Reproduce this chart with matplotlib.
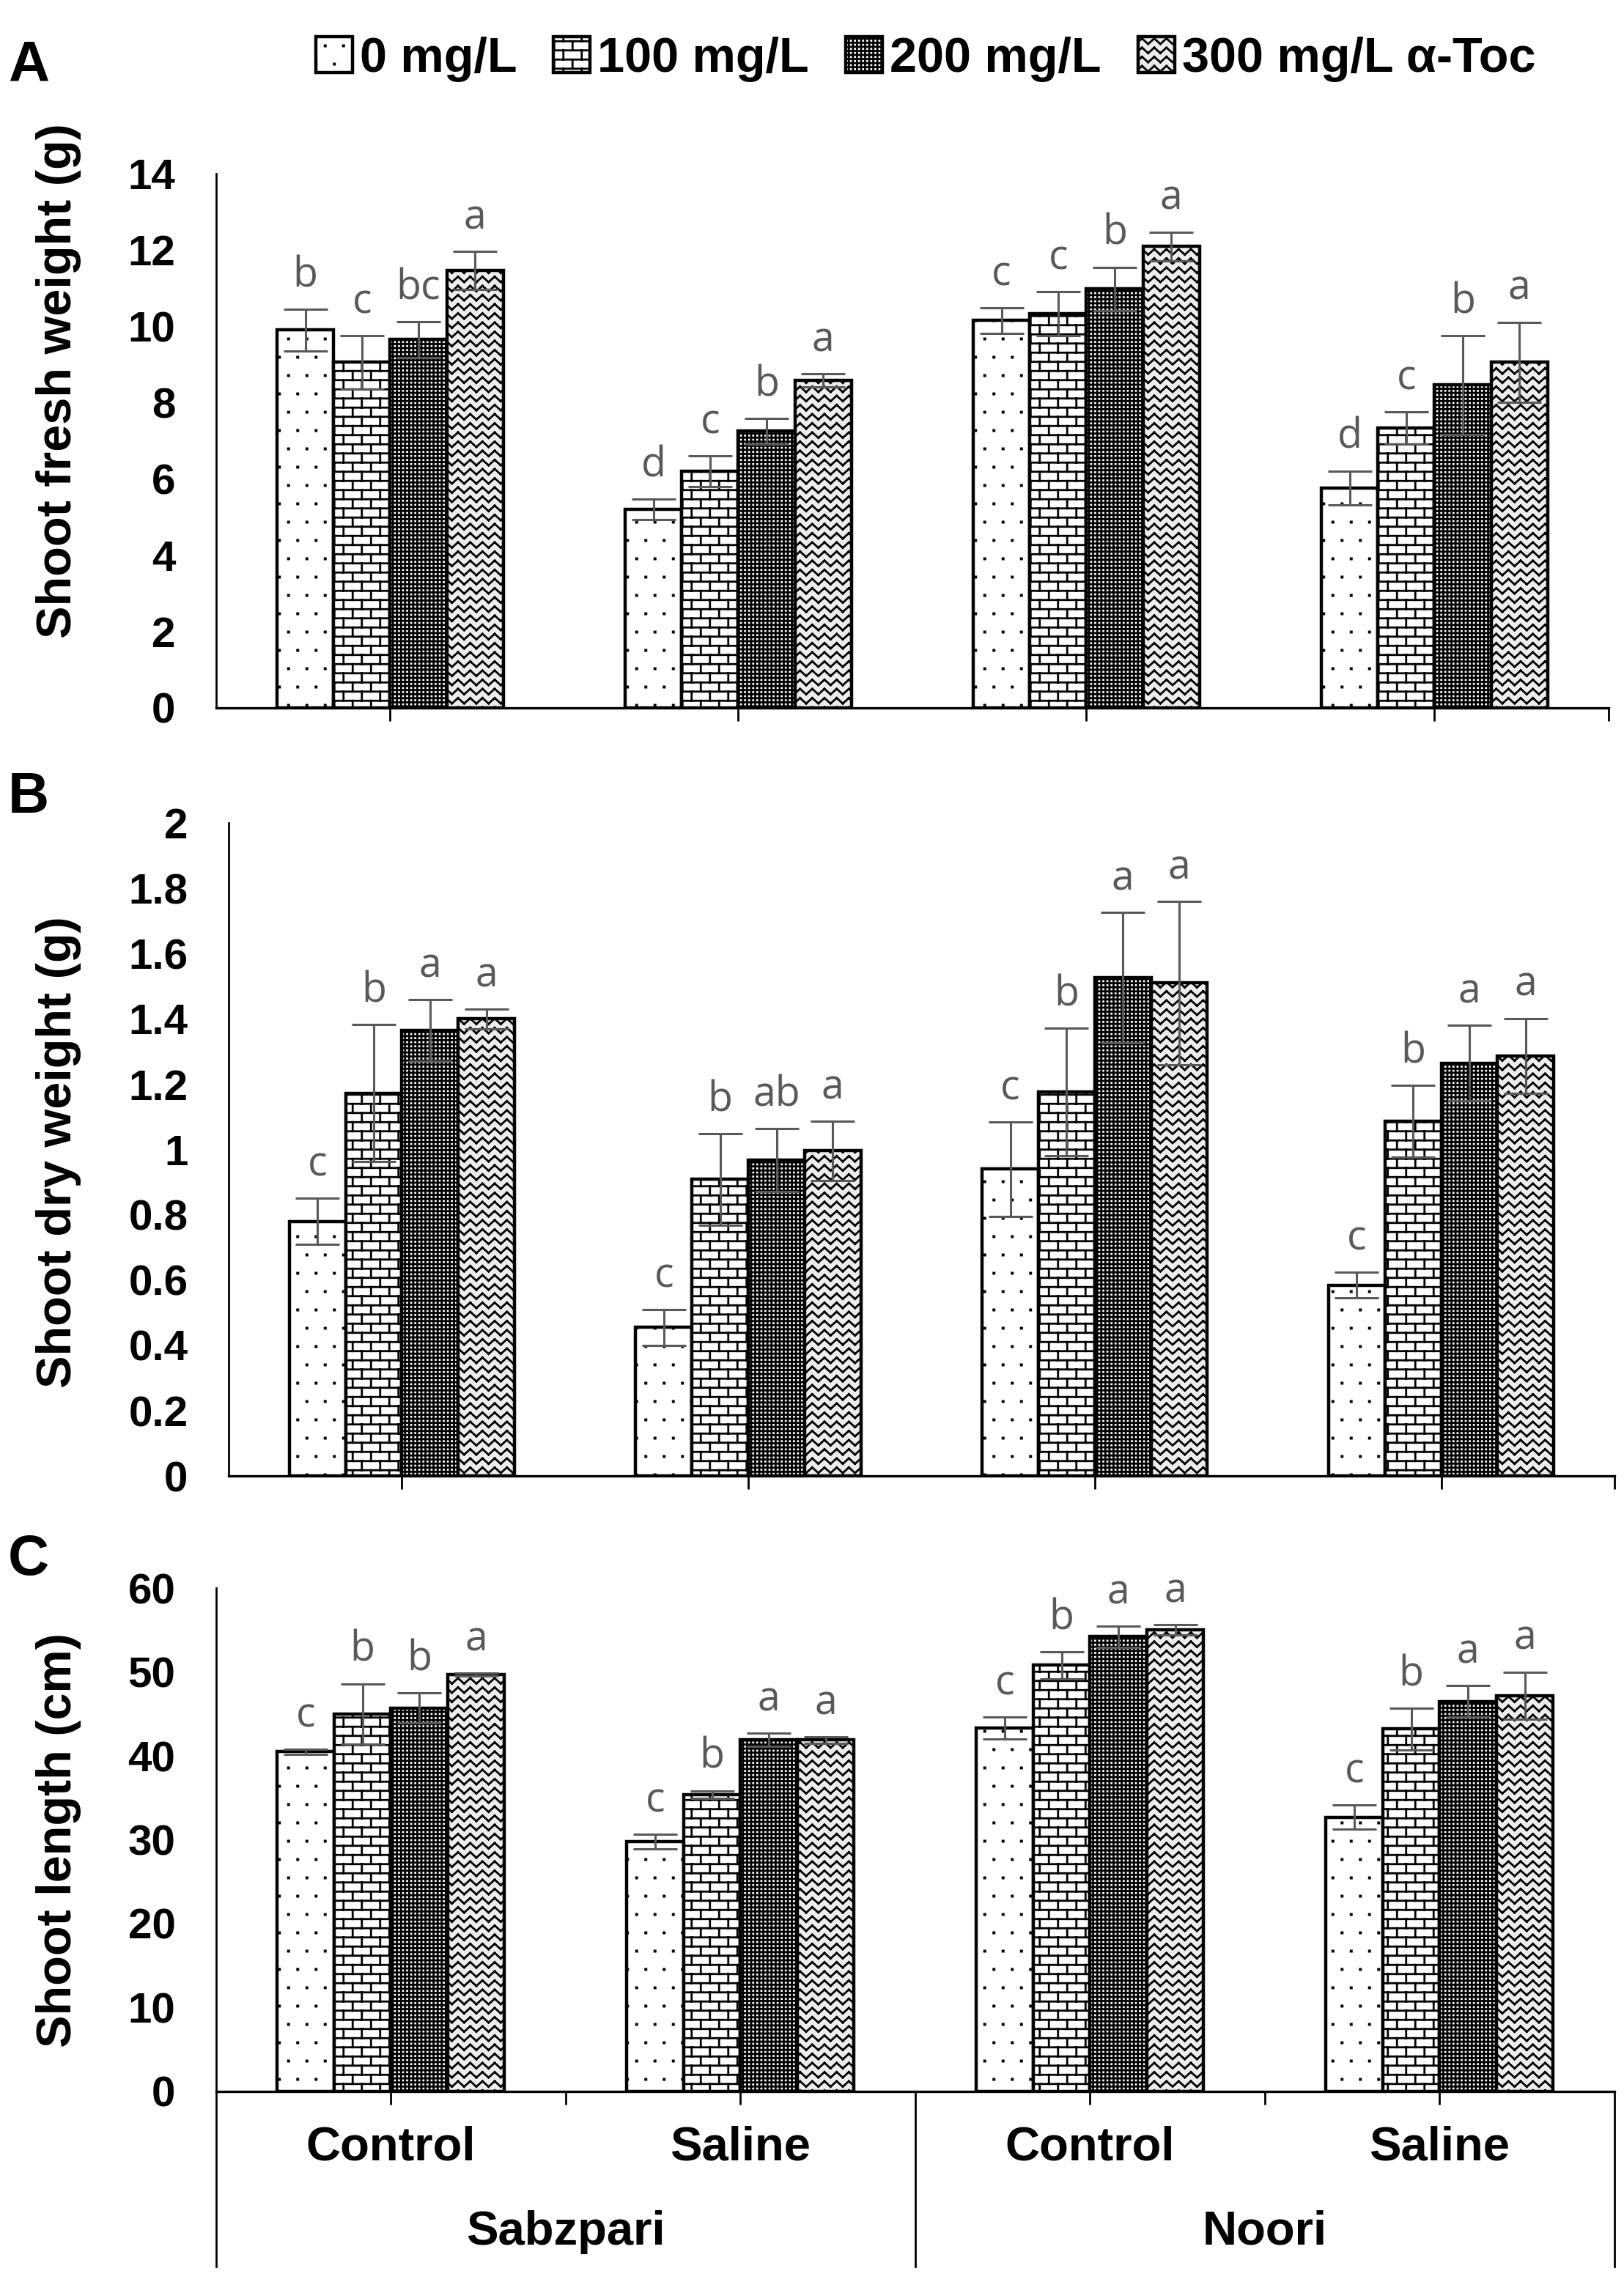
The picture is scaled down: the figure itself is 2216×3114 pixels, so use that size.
import numpy as np
import matplotlib
matplotlib.use("Agg")
import matplotlib.pyplot as plt
import matplotlib.hatch as mhatch
from matplotlib.path import Path
from matplotlib.patches import Patch
from matplotlib.ticker import FuncFormatter

# ---------------- data ----------------
categories = ["Control", "Saline", "Control", "Saline"]
varieties = ["Sabzpari", "Noori"]
series_labels = ["0 mg/L", "100 mg/L", "200 mg/L", "300 mg/L α-Toc"]

# Panel A: shoot fresh weight (g); rows = series (0,100,200,300 mg/L), cols = categories
fresh_mean = [[9.90, 5.20, 10.15, 5.76],
              [9.06, 6.20, 10.33, 7.33],
              [9.65, 7.25, 10.98, 8.46],
              [11.46, 8.58, 12.09, 9.06]]
fresh_sd = [[0.55, 0.27, 0.33, 0.45],
            [0.70, 0.40, 0.58, 0.42],
            [0.47, 0.33, 0.57, 1.30],
            [0.50, 0.17, 0.38, 1.05]]
fresh_letters = [["b", "d", "c", "d"],
                 ["c", "c", "c", "c"],
                 ["bc", "b", "b", "b"],
                 ["a", "a", "a", "a"]]

# Panel B: shoot dry weight (g)
dry_mean = [[0.78, 0.455, 0.94, 0.585],
            [1.173, 0.909, 1.177, 1.087],
            [1.365, 0.968, 1.527, 1.265],
            [1.40, 0.996, 1.51, 1.287]]
dry_sd = [[0.07, 0.055, 0.145, 0.04],
          [0.21, 0.14, 0.195, 0.11],
          [0.095, 0.096, 0.20, 0.115],
          [0.03, 0.09, 0.25, 0.115]]
dry_letters = [["c", "c", "c", "c"],
               ["b", "b", "b", "b"],
               ["a", "ab", "a", "a"],
               ["a", "a", "a", "a"]]

# Panel C: shoot length (cm)
length_mean = [[40.5, 29.8, 43.3, 32.7],
               [45.0, 35.4, 50.8, 43.2],
               [45.7, 41.9, 54.2, 46.5],
               [49.7, 41.9, 55.0, 47.2]]
length_sd = [[0.3, 0.85, 1.3, 1.45],
             [3.6, 0.45, 1.6, 2.5],
             [1.8, 0.8, 1.25, 1.9],
             [0.2, 0.4, 0.6, 2.8]]
length_letters = [["c", "c", "c", "c"],
                  ["b", "b", "b", "b"],
                  ["b", "a", "a", "a"],
                  ["a", "a", "a", "a"]]


# ---------------- custom hatch patterns ----------------
class _Base(mhatch.HatchPatternBase):
    sym = ""

    def __init__(self, hatch, density):
        self.on = hatch is not None and self.sym in hatch
        self.verts, self.codes = self.build() if self.on else (np.empty((0, 2)), np.empty(0))
        self.num_vertices = len(self.verts)

    def set_vertices_and_codes(self, vertices, codes):
        vertices[:] = self.verts
        codes[:] = self.codes

    @staticmethod
    def segs(seglist):
        v = np.asarray(seglist, float).reshape(-1, 2)
        c = np.empty(len(v), Path.code_type)
        c[0::2] = Path.MOVETO
        c[1::2] = Path.LINETO
        return v, c


class DotHatch(_Base):
    sym = "."

    def build(self):
        n = 8
        s = 0.003
        verts, codes = [], []
        for r in range(n):
            y = (r + 0.5) / n
            for c in range(n):
                x = (c + 0.25 + 0.5 * (r % 2)) / n
                verts += [(x - s, y - s), (x + s, y - s), (x + s, y + s), (x - s, y + s), (x - s, y - s)]
                codes += [Path.MOVETO, Path.LINETO, Path.LINETO, Path.LINETO, Path.CLOSEPOLY]
        return np.array(verts, float), np.array(codes, Path.code_type)


class BrickHatch(_Base):
    sym = "+"

    def build(self):
        R, C = 16, 8
        segs = []
        for k in range(R):
            y0 = (k + 0.5) / R
            y1 = (k + 1.5) / R
            segs.append([(0.0, y0), (1.0, y0)])
            for j in range(C):
                x = (j + 0.25 + 0.5 * (k % 2)) / C
                segs.append([(x, y0), (x, min(y1, 1.0))])
                if y1 > 1.0:
                    segs.append([(x, 0.0), (x, y1 - 1.0)])
        return self.segs(segs)


class ZigzagHatch(_Base):
    sym = "x"

    def build(self):
        R, P = 16, 12
        segs = []
        for k in range(R):
            y0 = (k + 0.2) / R
            a = 0.6 / R
            xs = np.arange(2 * P + 1) / (2 * P)
            ys = y0 + a * (np.arange(2 * P + 1) % 2)
            for i in range(2 * P):
                segs.append([(xs[i], ys[i]), (xs[i + 1], ys[i + 1])])
        return self.segs(segs)


class DenseHatch(_Base):
    sym = "*"

    def build(self):
        N = 36
        segs = []
        for k in range(N):
            p = (k + 0.5) / N
            segs.append([(0.0, p), (1.0, p)])
            segs.append([(p, 0.0), (p, 1.0)])
        return self.segs(segs)


mhatch._hatch_types[:] = [DotHatch, BrickHatch, ZigzagHatch, DenseHatch]

# ---------------- style ----------------
plt.rcParams["font.family"] = ["Liberation Sans", "DejaVu Sans"]
plt.rcParams["font.weight"] = "bold"
plt.rcParams["hatch.linewidth"] = 1.0

hatches = [".", "+", "*", "x"]
faces = ["white", "white", "white", "#ececec"]
letter_color = "#595959"
err_color = "#595959"

fig = plt.figure(figsize=(11.08, 15.57), dpi=200)

panels = [
    dict(rect=[0.1331, 0.6898, 0.8574, 0.2341], mean=fresh_mean, sd=fresh_sd, let=fresh_letters,
         ylim=(0, 14), ticks=np.arange(0, 14.01, 2), ylabel="Shoot fresh weight (g)",
         ylab_y=0.833, tag="A", tag_y=0.971),
    dict(rect=[0.1408, 0.3532, 0.8533, 0.2861], mean=dry_mean, sd=dry_sd, let=dry_letters,
         ylim=(0, 2), ticks=np.arange(0, 2.001, 0.2), ylabel="Shoot dry weight (g)",
         ylab_y=0.4952, tag="B", tag_y=0.6506),
    dict(rect=[0.1331, 0.0835, 0.8610, 0.2206], mean=length_mean, sd=length_sd, let=length_letters,
         ylim=(0, 60), ticks=np.arange(0, 60.01, 10), ylabel="Shoot length (cm)",
         ylab_y=0.1936, tag="C", tag_y=0.3166),
]

w = 0.1625
xc = np.arange(len(categories))
fmt = FuncFormatter(lambda v, p: format(round(v, 1), "g"))

for pi, P in enumerate(panels):
    ax = fig.add_axes(P["rect"])
    for i in range(4):
        xs = xc + (i - 1.5) * w
        ax.bar(xs, P["mean"][i], width=w, facecolor=faces[i], edgecolor="black",
               linewidth=1.6, hatch=hatches[i], zorder=2,
               yerr=P["sd"][i],
               error_kw=dict(ecolor=err_color, elinewidth=1.1, capsize=10.8, capthick=1.1, zorder=4))
        for x, m, s, L in zip(xs, P["mean"][i], P["sd"][i], P["let"][i]):
            ax.annotate(L, (x, m + s), xytext=(0, 6), textcoords="offset points",
                        ha="center", va="bottom", fontsize=20, color=letter_color,
                        family=["Open Sans", "DejaVu Sans"], fontweight="normal")
    ax.set_xlim(-0.5, 3.5)
    ax.set_ylim(*P["ylim"])
    ax.set_yticks(P["ticks"])
    ax.yaxis.set_major_formatter(fmt)
    ax.tick_params(axis="y", length=0, pad=20, labelsize=21)
    for sp in ["top", "right"]:
        ax.spines[sp].set_visible(False)
    ax.spines["left"].set_linewidth(1.0)
    ax.spines["bottom"].set_linewidth(1.2)
    if pi < 2:
        ax.set_xticks([0, 1, 2, 3, 3.5])
        ax.set_xticklabels([])
    else:
        ax.set_xticks([0, 0.5, 1, 2, 2.5, 3])
        ax.set_xticklabels([])
        tr = ax.get_xaxis_transform()
        for xb in [-0.5, 1.5, 3.5]:
            ax.plot([xb, xb], [0, -0.348], transform=tr, clip_on=False, color="black", lw=1.0)
        for x, c in zip(xc, categories):
            ax.text(x, -0.111, c, transform=tr, ha="center", va="center", fontsize=23.5,
                    fontweight="bold")
        for j, v in enumerate(varieties):
            ax.text(0.5 + 2 * j, -0.279, v, transform=tr, ha="center", va="center",
                    fontsize=23.5, fontweight="bold")
    ax.tick_params(axis="x", length=6.5, width=1.0, direction="out")
    fig.text(0.036, P["ylab_y"], P["ylabel"], rotation=90, ha="center", va="center",
             fontsize=24, fontweight="bold")
    fig.text(0.005, P["tag_y"], P["tag"], ha="left", va="center", fontsize=28, fontweight="bold")

handles = [Patch(facecolor=faces[i], edgecolor="black", hatch=hatches[i], linewidth=1.6)
           for i in range(4)]
fig.legend(handles, series_labels, loc="upper center", bbox_to_anchor=(0.57, 0.999), ncol=4,
           frameon=False, fontsize=24, handlelength=0.75, handleheight=0.75,
           handletextpad=0.15, columnspacing=0.75, borderpad=0.2)

fig.savefig("out.png", dpi=200, facecolor="white")
